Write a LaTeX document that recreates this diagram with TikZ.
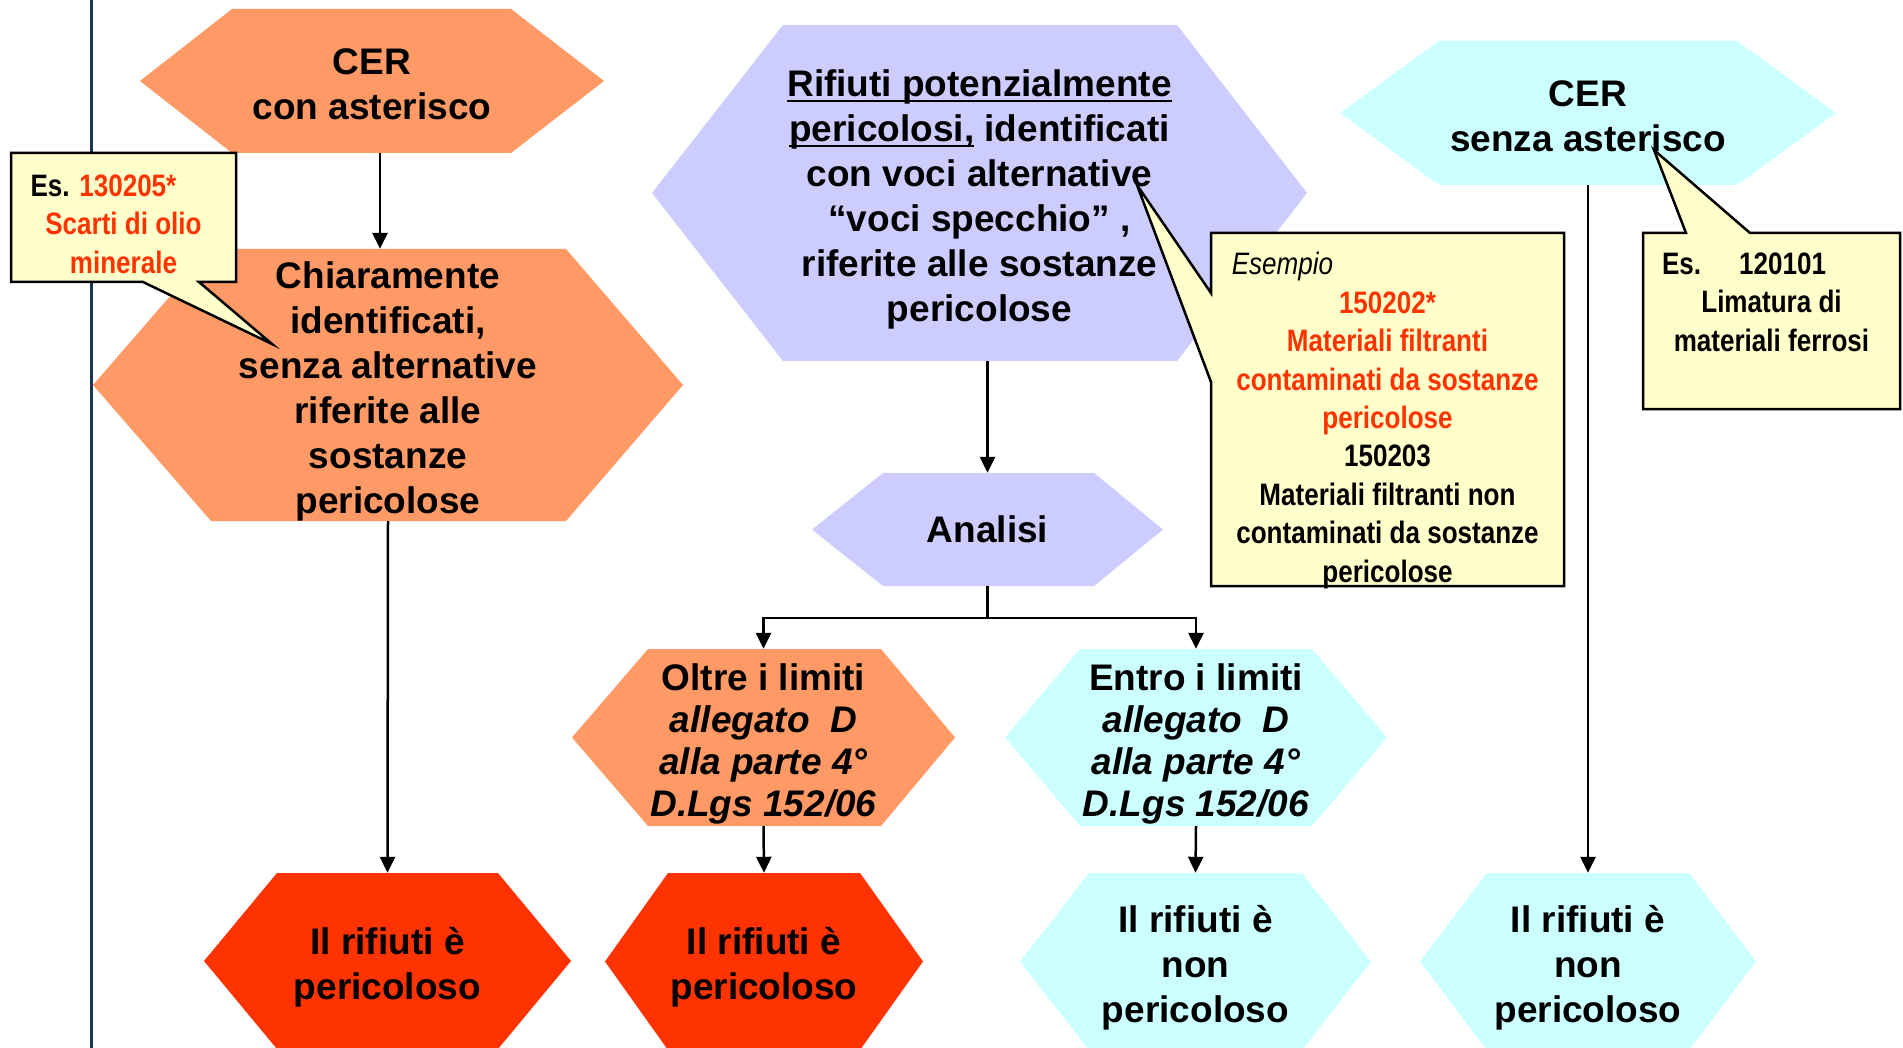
\documentclass[tikz,border=0pt]{standalone}
\usepackage{fontspec}
\setmainfont{Liberation Sans}
\newfontfamily\narrowfont{Liberation Sans}[FakeStretch=0.84]
\usetikzlibrary{arrows.meta}
\definecolor{hexorange}{HTML}{FF9966}
\definecolor{hexred}{HTML}{FF3300}
\definecolor{hexpurple}{HTML}{CCCCFF}
\definecolor{hexcyan}{HTML}{CCFFFF}
\definecolor{noteyellow}{HTML}{FFFFCC}
\definecolor{notered}{HTML}{FF3300}
\definecolor{navyline}{HTML}{1B3456}
\newsavebox\ulbox
\newcommand\myul[1]{\leavevmode\sbox\ulbox{#1}\rlap{\vrule height -3.4pt depth 6pt width \wd\ulbox}\usebox\ulbox}
\newcommand\topstrut[1]{\rule{0pt}{#1pt}}
% polygon of a hexagon: colour, left point x, inner left x, inner right x, right point x, top y, bottom y
\newcommand\hexshape[7]{\fill[#1] (#2,{(#6+#7)/2}) -- (#3,#6) -- (#4,#6) -- (#5,{(#6+#7)/2}) -- (#4,#7) -- (#3,#7) -- cycle;}
\tikzset{
  hexlabel/.style={inner sep=0pt, align=center, text=black, font=\fontsize{37}{45}\selectfont\bfseries},
  hexlabeltight/.style={hexlabel, font=\fontsize{37}{42}\selectfont\bfseries},
  hexsize/.style 2 args={minimum width=#1pt, minimum height=#2pt},
  notetext/.style={inner sep=0pt, align=center, text=black, font=\narrowfont\fontsize{31}{38.4}\selectfont\bfseries},
  notebox/.style={fill=noteyellow, draw=black, line width=2.5pt, line join=miter},
  arr/.style={line width=2.5pt, -{Triangle[length=16pt,width=15pt]}},
  plainline/.style={line width=2.5pt}
}
\begin{document}
\begin{tikzpicture}[x=1pt,y=-1pt]
\useasboundingbox (0,0) rectangle (1903,1048);
\clip (0,0) rectangle (1903,1048);
\fill[white] (0,0) rectangle (1903,1048);
% left vertical rule
\draw[navyline, line width=3pt] (91,0) -- (91,1048);

% ---- left column
\hexshape{hexorange}{140}{232}{511}{604}{9}{153}
\node[hexlabel, hexsize={464}{144}] (cerA) at (372,81) {\topstrut{32}CER\\con asterisco};
\hexshape{hexorange}{93}{211}{566}{683}{249}{521}
\node[hexlabel, hexsize={590}{272}] (chiar) at (388,385) {\topstrut{39}Chiaramente\\identificati,\\senza alternative\\riferite alle\\sostanze\\pericolose};
\hexshape{hexred}{204}{277}{498}{571}{873}{1049}
\node[hexlabel, hexsize={367}{176}] (perA) at (387.5,961) {\topstrut{39}Il rifiuti è\\pericoloso};

% ---- middle column
\hexshape{hexpurple}{652}{783}{1177}{1307}{25}{361}
\node[hexlabel, hexsize={655}{336}] (rifpot) at (979.5,193) {\topstrut{39}\myul{Rifiuti potenzialmente}\\\myul{pericolosi,} identificati\\con voci alternative\\“voci specchio” ,\\riferite alle sostanze\\pericolose};
\hexshape{hexpurple}{812}{883}{1094}{1163}{473}{586}
\node[hexlabel, hexsize={351}{113}] (analisi) at (987.5,529.5) {Analisi};
\hexshape{hexorange}{572}{648}{881}{955}{649}{826}
\node[hexlabeltight, hexsize={383}{177}] (oltre) at (763.5,737.5) {\topstrut{39}Oltre i limiti\\\textit{allegato~~D}\\\textit{alla parte 4°}\\\textit{D.Lgs 152/06}};
\hexshape{hexcyan}{1005}{1080}{1312}{1387}{649}{826}
\node[hexlabeltight, hexsize={382}{177}] (entro) at (1196,737.5) {\topstrut{39}Entro i limiti\\\textit{allegato~~D}\\\textit{alla parte 4°}\\\textit{D.Lgs 152/06}};
\hexshape{hexred}{605}{668}{860}{923}{873}{1050}
\node[hexlabel, hexsize={318}{177}] (perB) at (764,961.5) {\topstrut{39}Il rifiuti è\\pericoloso};
\hexshape{hexcyan}{1020}{1089}{1302}{1371}{873}{1050}
\node[hexlabel, hexsize={351}{177}] (nonB) at (1195.5,961.5) {\topstrut{39}Il rifiuti è\\non\\pericoloso};

% ---- right column
\hexshape{hexcyan}{1340}{1439}{1737}{1836}{41}{185}
\node[hexlabel, hexsize={496}{144}] (cerB) at (1588,113) {\topstrut{32}CER\\senza asterisco};
\hexshape{hexcyan}{1420}{1487}{1689}{1756}{873}{1050}
\node[hexlabel, hexsize={336}{177}] (nonC) at (1588,961.5) {\topstrut{39}Il rifiuti è\\non\\pericoloso};

% ---- connectors
\draw[arr] ([xshift=8pt]cerA.south) -- ([xshift=-8pt]chiar.north);
\draw[arr] (chiar.south) -- (perA.north);
\draw[arr] ([xshift=8pt]rifpot.south) -- (analisi.north);
\coordinate (branch) at (987.5,618);
\draw[plainline] (analisi.south) -- (branch);
\draw[arr] (branch) -| (oltre.north);
\draw[arr] (branch) -| (entro.north);
\draw[arr] (oltre.south) -- (perB.north);
\draw[arr] (entro.south) -- (nonB.north);
\draw[arr] (cerB.south) -- (nonC.north);

% ---- callouts
\draw[notebox] (11,153) -- (236,153) -- (236,282) -- (199,282) -- (272,344) -- (143,282) -- (11,282) -- cycle;
\node[notetext] (noteA) at (123.5,224) {Es. \textcolor{notered}{130205*}\hspace*{40pt}\\\textcolor{notered}{Scarti di olio}\\\textcolor{notered}{minerale}};

\draw[notebox] (1211,233) -- (1564,233) -- (1564,586) -- (1211,586) -- (1211,382) -- (1137,185) -- (1211,293) -- cycle;
\node[notetext] (noteB) at (1387.5,420.5) {{\mdseries\itshape Esempio}\hspace*{210pt}\\\textcolor{notered}{150202*}\\\textcolor{notered}{Materiali filtranti}\\\textcolor{notered}{contaminati da sostanze}\\\textcolor{notered}{pericolose}\\150203\\Materiali filtranti non\\contaminati da sostanze\\pericolose};

\draw[notebox] (1643,233) -- (1686,233) -- (1654,150) -- (1750,233) -- (1900,233) -- (1900,409) -- (1643,409) -- cycle;
\node[notetext] (noteC) at (1771.5,302) {Es.\hspace{38pt}120101\hspace*{55pt}\\Limatura di\\materiali ferrosi};
\end{tikzpicture}
\end{document}
